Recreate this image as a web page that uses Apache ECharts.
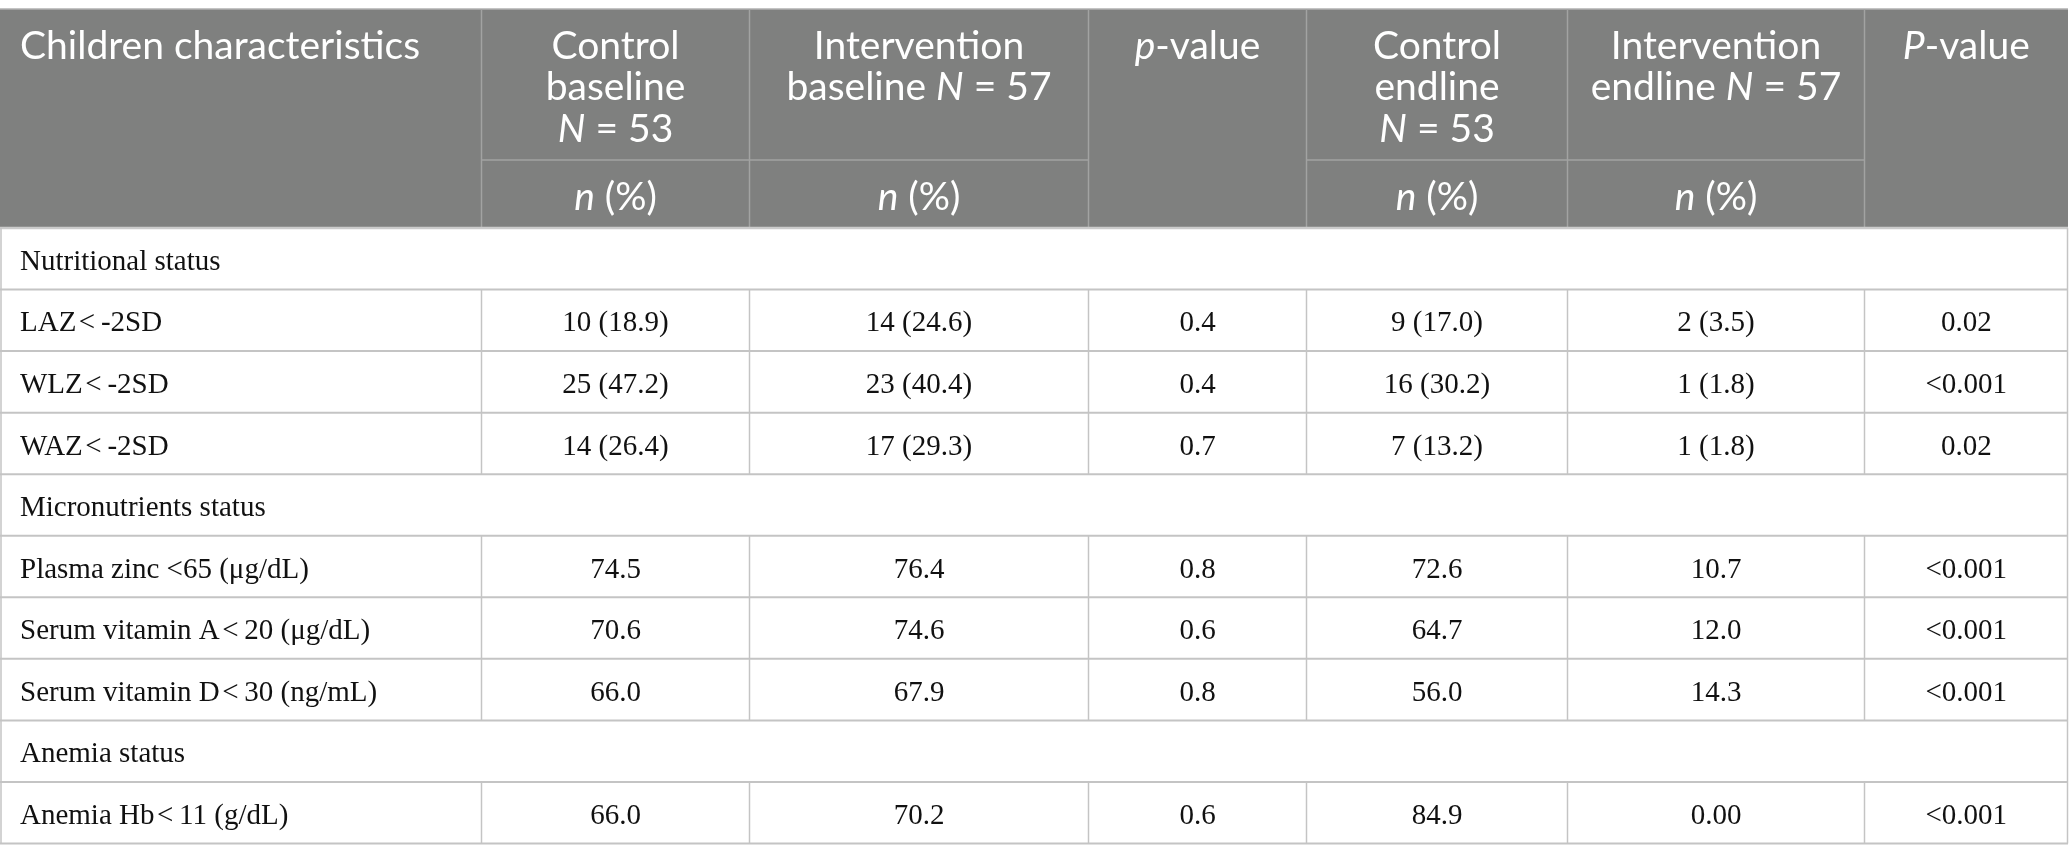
<!DOCTYPE html>
<html>
<head>
<meta charset="utf-8">
<script src="https://cdn.jsdelivr.net/npm/echarts@6/dist/echarts.min.js"></script>
<style>
html,body{margin:0;padding:0;background:#fff;}
#chart{width:2069px;height:860px;}
</style>
</head>
<body>
<div id="chart"></div>
<script>
// ---------- DATA ----------
const headerTitles = [
  ['Children characteristics'],
  ['Control', 'baseline', '{i|N} = 53'],
  ['Intervention', 'baseline {i|N} = 57'],
  ['{i|p}-value'],
  ['Control', 'endline', '{i|N} = 53'],
  ['Intervention', 'endline {i|N} = 57'],
  ['{i|P}-value']
];
const subHeader = ['', '{i|n} (%)', '{i|n} (%)', '', '{i|n} (%)', '{i|n} (%)', ''];
const groups = ['Nutritional status', 'Micronutrients status', 'Anemia status'];
const characteristics = [
  'LAZ\u200a<\u2009-2SD',
  'WLZ\u200a<\u2009-2SD',
  'WAZ\u200a<\u2009-2SD',
  'Plasma zinc <65 (\u03bcg/dL)',
  'Serum vitamin A\u200a<\u200920 (\u03bcg/dL)',
  'Serum vitamin D\u200a<\u200930 (ng/mL)',
  'Anemia Hb\u200a<\u200911 (g/dL)'
];
const itemGroup = [0, 0, 0, 1, 1, 1, 2];
const controlBaseline = ['10 (18.9)', '25 (47.2)', '14 (26.4)', '74.5', '70.6', '66.0', '66.0'];
const interventionBaseline = ['14 (24.6)', '23 (40.4)', '17 (29.3)', '76.4', '74.6', '67.9', '70.2'];
const pBaseline = ['0.4', '0.4', '0.7', '0.8', '0.6', '0.8', '0.6'];
const controlEndline = ['9 (17.0)', '16 (30.2)', '7 (13.2)', '72.6', '64.7', '56.0', '84.9'];
const interventionEndline = ['2 (3.5)', '1 (1.8)', '1 (1.8)', '10.7', '12.0', '14.3', '0.00'];
const pEndline = ['0.02', '<0.001', '0.02', '<0.001', '<0.001', '<0.001', '<0.001'];

// ---------- LAYOUT ----------
const W = 2069, H = 860;
const COL_EDGES = [0, 481.5, 749.5, 1088.5, 1306.5, 1567.5, 1864.5, 2068];
const TOP = 9, SUB = 160, HEAD_BOTTOM = 228, ROW_H = 61.55;
const HEAD_LINES = [46, 87.5, 129];
const SUB_Y = 197;
const TEXT_PAD = 20;
const HEAD_BG = '#7f807f', HEAD_LINE = '#a2a3a2', BODY_LINE = '#c4c4c4';
const HEAD_FONT = 'Lato', BODY_FONT = 'Liberation Serif';
const HEAD_SIZE = 39, BODY_SIZE = 29;

// build rows
const rows = [];
groups.forEach((g, gi) => {
  rows.push({ type: 'group', label: g });
  characteristics.forEach((c, i) => {
    if (itemGroup[i] === gi) {
      rows.push({ type: 'item', cells: [c, controlBaseline[i], interventionBaseline[i], pBaseline[i], controlEndline[i], interventionEndline[i], pEndline[i]] });
    }
  });
});

function line(api, x1, y1, x2, y2, color, w) {
  const a = api.coord([x1, y1]), b = api.coord([x2, y2]);
  return { type: 'line', shape: { x1: a[0], y1: a[1], x2: b[0], y2: b[1] }, style: { stroke: color, lineWidth: w } };
}
function text(api, x, y, str, opt) {
  const p = api.coord([x, y]);
  return {
    type: 'text',
    x: p[0], y: p[1],
    style: Object.assign({
      text: str,
      verticalAlign: 'middle'
    }, opt)
  };
}
const headRich = { i: { fontFamily: HEAD_FONT, fontStyle: 'italic', fontSize: HEAD_SIZE, fill: '#fff' } };

function renderHeader(params, api) {
  const ch = [];
  const tl = api.coord([0, TOP]), br = api.coord([COL_EDGES[7], HEAD_BOTTOM]);
  ch.push({ type: 'rect', shape: { x: tl[0], y: tl[1], width: br[0] - tl[0], height: br[1] - tl[1] }, style: { fill: HEAD_BG } });
  ch.push(line(api, 0, TOP, COL_EDGES[7], TOP, '#b0b0b0', 1.5));
  for (let c = 1; c < 7; c++) ch.push(line(api, COL_EDGES[c], TOP, COL_EDGES[c], HEAD_BOTTOM, HEAD_LINE, 1.5));
  ch.push(line(api, COL_EDGES[1], SUB, COL_EDGES[3], SUB, HEAD_LINE, 1.5));
  ch.push(line(api, COL_EDGES[4], SUB, COL_EDGES[6], SUB, HEAD_LINE, 1.5));
  ch.push(line(api, 0, HEAD_BOTTOM, COL_EDGES[7], HEAD_BOTTOM, '#cbcbcb', 2.5));
  headerTitles.forEach((lines, c) => {
    const left = c === 0;
    const x = left ? COL_EDGES[0] + TEXT_PAD : (COL_EDGES[c] + COL_EDGES[c + 1]) / 2;
    lines.forEach((s, li) => {
      ch.push(text(api, x, HEAD_LINES[li], s, {
        align: left ? 'left' : 'center',
        fill: '#fff', fontFamily: HEAD_FONT, fontSize: HEAD_SIZE, rich: headRich
      }));
    });
    if (subHeader[c]) {
      ch.push(text(api, x, SUB_Y, subHeader[c], {
        align: 'center', fill: '#fff', fontFamily: HEAD_FONT, fontSize: HEAD_SIZE, rich: headRich
      }));
    }
  });
  return { type: 'group', children: ch };
}

function renderRow(params, api) {
  const r = api.value(0);
  const row = rows[r];
  const y0 = HEAD_BOTTOM + r * ROW_H, y1 = y0 + ROW_H, yc = (y0 + y1) / 2 + 3.5;
  const ch = [];
  ch.push(line(api, 1, y0, 1, y1, BODY_LINE, 1.5));
  ch.push(line(api, COL_EDGES[7] - 0.5, y0, COL_EDGES[7] - 0.5, y1, BODY_LINE, 1.5));
  if (row.type === 'group') {
    ch.push(text(api, COL_EDGES[0] + TEXT_PAD, yc, row.label, { align: 'left', fill: '#111', fontFamily: BODY_FONT, fontSize: BODY_SIZE }));
  } else {
    for (let c = 1; c < 7; c++) ch.push(line(api, COL_EDGES[c], y0, COL_EDGES[c], y1, BODY_LINE, 1.5));
    row.cells.forEach((s, c) => {
      const left = c === 0;
      const x = left ? COL_EDGES[0] + TEXT_PAD : (COL_EDGES[c] + COL_EDGES[c + 1]) / 2;
      ch.push(text(api, x, yc, s, { align: left ? 'left' : 'center', fill: '#111', fontFamily: BODY_FONT, fontSize: BODY_SIZE }));
    });
  }
  ch.push(line(api, 0, y1, COL_EDGES[7], y1, BODY_LINE, 2));
  return { type: 'group', children: ch };
}

const chart = echarts.init(document.getElementById('chart'), null, { renderer: 'canvas' });
chart.setOption({
  animation: false,
  backgroundColor: '#fff',
  grid: { left: 0, right: 0, top: 0, bottom: 0 },
  xAxis: { type: 'value', min: 0, max: W, show: false },
  yAxis: { type: 'value', min: 0, max: H, inverse: true, show: false },
  series: [
    { type: 'custom', renderItem: renderHeader, data: [[0]], silent: true },
    { type: 'custom', renderItem: renderRow, data: rows.map((r, i) => [i]), silent: true }
  ]
});
</script>
</body>
</html>
